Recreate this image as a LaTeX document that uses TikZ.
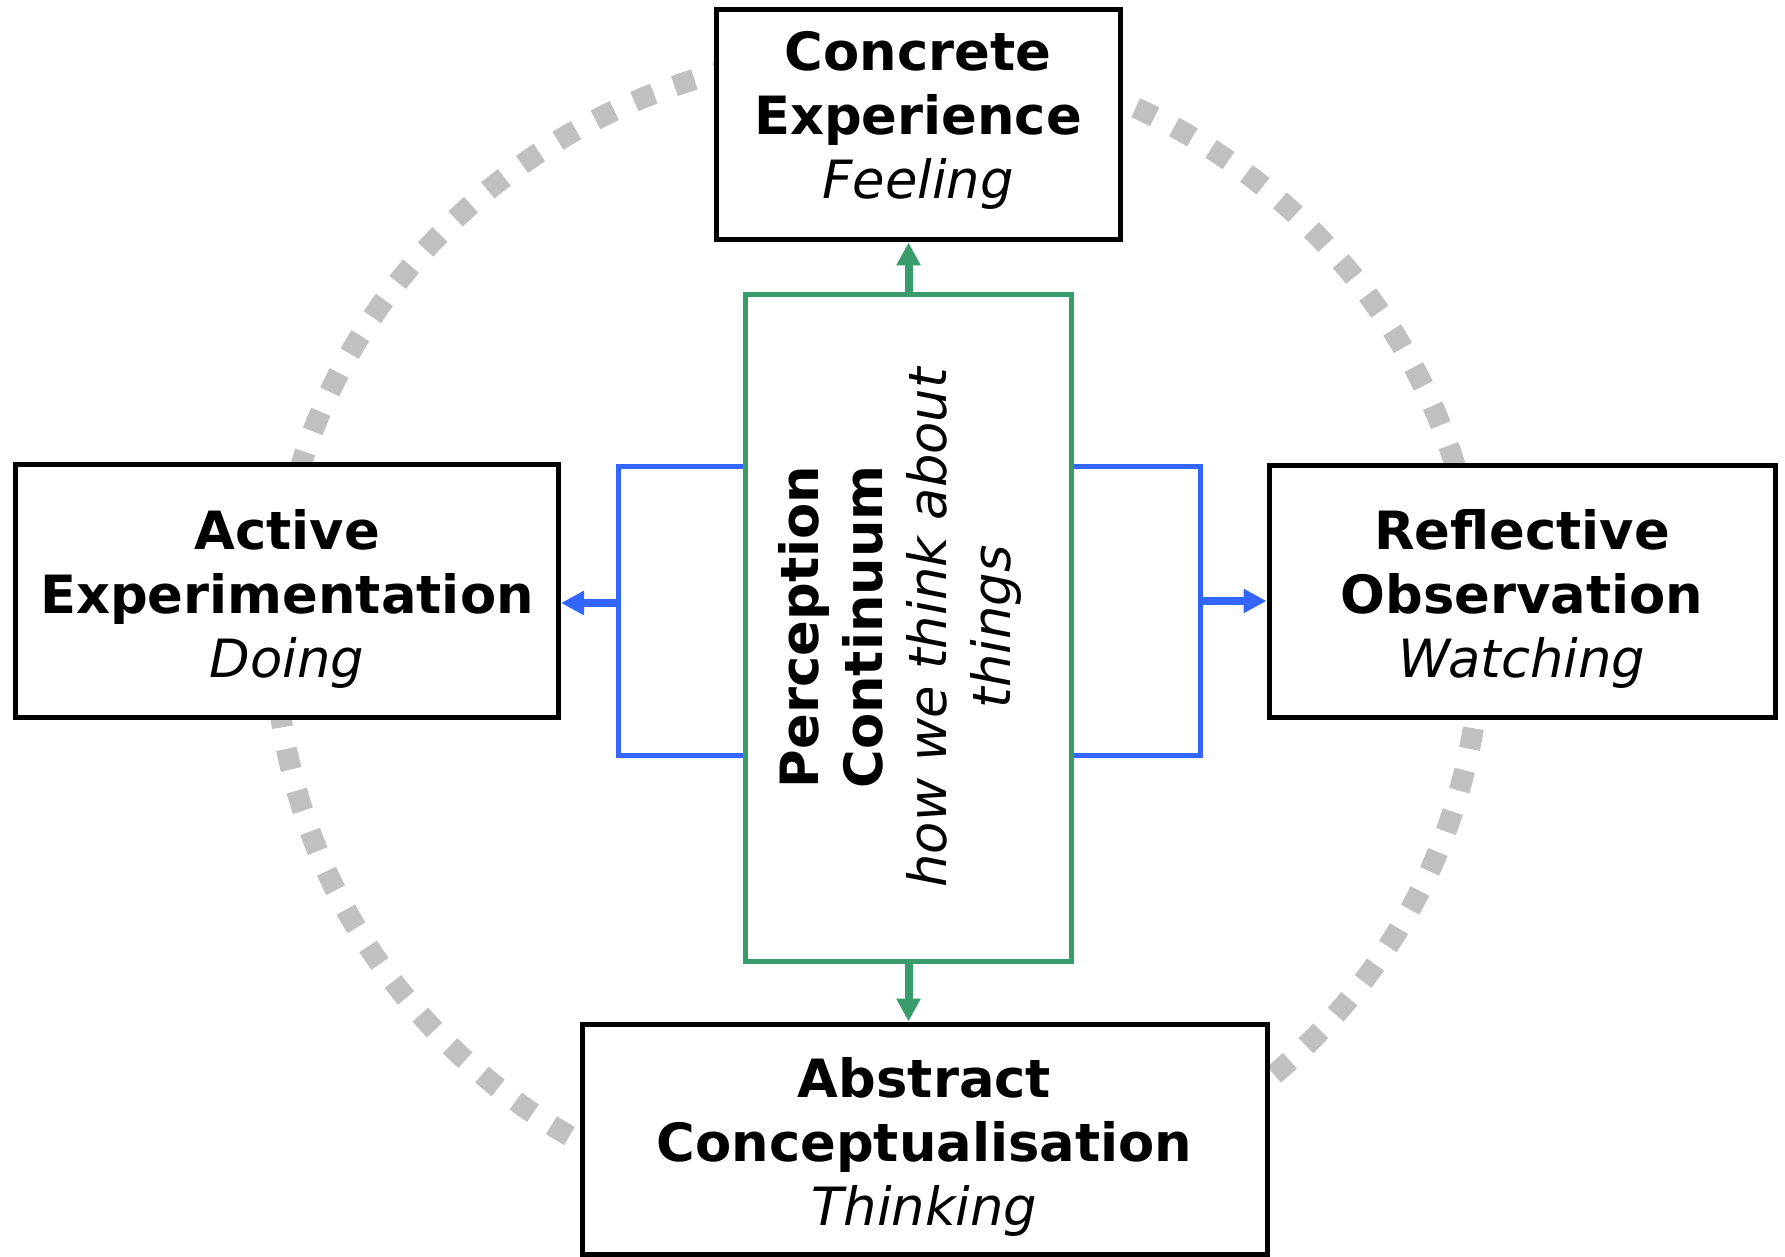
\documentclass[tikz,border=0pt]{standalone}
\usepackage{fontspec}
\setmainfont{DejaVu Sans}
\usetikzlibrary{arrows.meta}
\definecolor{pgreen}{RGB}{57,156,106}
\definecolor{pblue}{RGB}{51,102,255}
\definecolor{dotgray}{RGB}{192,192,192}

\begin{document}
\begin{tikzpicture}[
		stage/.style={draw, rectangle, line width=0.05cm, fill=white, inner sep=0pt},
		stagetext/.style={align=center, inner sep=0pt, font=\fontsize{15}{18.2}\selectfont},
		bline/.style={pblue, line width=0.05cm},
		barrow/.style={pblue, line width=0.08cm, -{Triangle[length=0.23cm, width=0.23cm]}},
		garrow/.style={pgreen, line width=0.08cm, -{Triangle[length=0.23cm, width=0.23cm]}}
	]
	\useasboundingbox (0,0) rectangle (17.85,-12.57);
	\draw[dotgray, line width=0.21cm, dash pattern=on 0.21cm off 0.22cm] (8.78,-6.35) ellipse [x radius=6.03, y radius=5.83];
	\node[stage, minimum width=4.04cm, minimum height=2.30cm] (CE)at(9.18, -1.25) {};
	\node[stage, minimum width=5.43cm, minimum height=2.53cm] (AE)at(2.87, -5.915) {};
	\node[stage, minimum width=5.06cm, minimum height=2.52cm] (RO)at(15.22, -5.92) {};
	\node[stage, minimum width=6.85cm, minimum height=2.30cm] (AC)at(9.245, -11.39) {};
	\node[stagetext] (CEtext)at([yshift=0.05cm]CE.center) {\textbf{Concrete}\\\textbf{Experience}\\\textit{Feeling}};
	\node[stagetext] (AEtext)at([yshift=-0.07cm]AE.center) {\textbf{Active}\\\textbf{Experimentation}\\\textit{Doing}};
	\node[stagetext] (ROtext)at([yshift=-0.07cm]RO.center) {\textbf{Reflective}\\\textbf{Observation}\\\textit{Watching}};
	\node[stagetext] (ACtext)at([yshift=-0.08cm]AC.center) {\textbf{Abstract}\\\textbf{Conceptualisation}\\\textit{Thinking}};
	\node[draw=pgreen, line width=0.05cm, fill=white, minimum width=3.26cm, minimum height=6.66cm, inner sep=0pt] (PC)at(9.085, -6.28) {};
	\node[stagetext, rotate=90] (PCtext)at(9.00, -6.27) {\textbf{Perception}\\\textbf{Continuum}\\\textit{how we think about}\\\textit{things}};
	\coordinate (L1)at(6.18, -4.67);
	\coordinate (L2)at(6.18, -7.56);
	\coordinate (L3)at(6.18, -6.03);
	\coordinate (R1)at(12.00, -4.67);
	\coordinate (R2)at(12.00, -7.56);
	\coordinate (R3)at(12.00, -6.01);
	\draw[bline] (PC.west |- L1) -- (L1) -- (L2) -- (PC.west |- L2);
	\draw[bline] (PC.east |- R1) -- (R1) -- (R2) -- (PC.east |- R2);
	\draw[barrow] (L3) -- (AE.east |- L3);
	\draw[barrow] (R3) -- (RO.west |- R3);
	\draw[garrow] (PC.north) -- (PC.north |- CE.south);
	\draw[garrow] (PC.south) -- (PC.south |- AC.north);
\end{tikzpicture}
\end{document}
